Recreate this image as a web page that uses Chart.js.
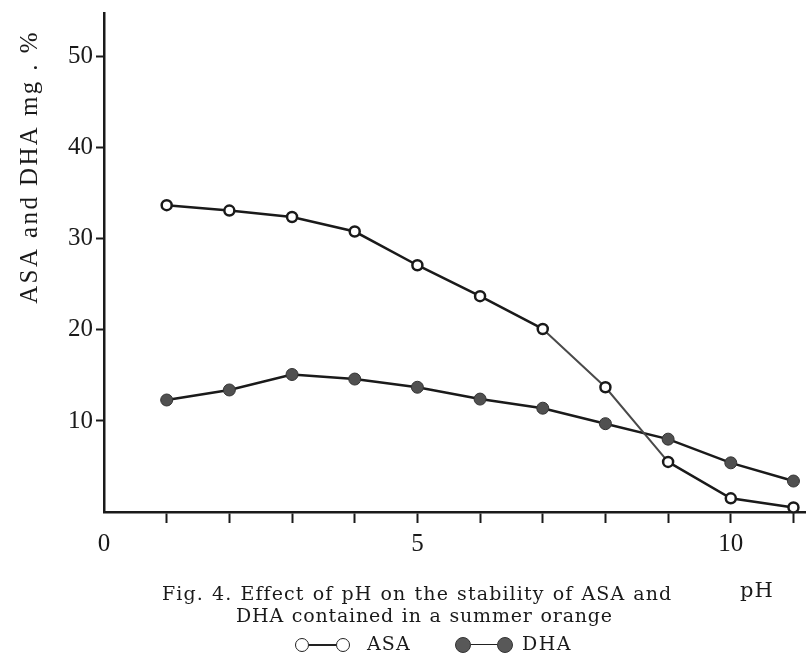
<!DOCTYPE html>
<html>
<head>
<meta charset="utf-8">
<script src="https://cdn.jsdelivr.net/npm/chart.js@4.4.1/dist/chart.umd.min.js"></script>
<style>
  html, body { margin: 0; padding: 0; background: #fff; }
  #wrap { position: relative; width: 806px; height: 655px; overflow: hidden; }
  #wrap canvas { position: absolute; left: 0; top: 0; }
  .cap { position: absolute; font-family: "DejaVu Serif", serif; font-size: 19px; color: #1a1a1a; white-space: nowrap; line-height: 1; letter-spacing: 1.1px; word-spacing: 1px; }
  .dot { position: absolute; width: 14px; height: 14px; border-radius: 50%; box-sizing: border-box; }
  .dot.open { border: 1.5px solid #222; background: #fff; }
  .dot.full { width: 16px; height: 16px; border: 1px solid #333; background: #585858; }
  .dash { position: absolute; height: 1.5px; background: #222; }
</style>
</head>
<body>
<div id="wrap">
  <canvas id="phChart" width="806" height="655"></canvas>
  <div class="cap" style="left:162px;top:584px">Fig. 4. Effect of pH on the stability of ASA and</div>
  <div class="cap" style="left:740px;top:580px;font-size:21px;letter-spacing:1px">pH</div>
  <div class="cap" style="left:236px;top:606px;letter-spacing:0.8px">DHA contained in a summer orange</div>
  <!-- legend row -->
  <div class="dot open" style="left:295px;top:638px"></div>
  <div class="dash" style="left:309px;top:644px;width:27px"></div>
  <div class="dot open" style="left:336px;top:638px"></div>
  <div class="cap" style="left:367px;top:634px">ASA</div>
  <div class="dot full" style="left:455px;top:637px"></div>
  <div class="dash" style="left:471px;top:644px;width:26px;height:1px"></div>
  <div class="dot full" style="left:497px;top:637px"></div>
  <div class="cap" style="left:522px;top:634px;letter-spacing:1.5px">DHA</div>
</div>
<script>
// pH values on the x axis
const phValues = [1, 2, 3, 4, 5, 6, 7, 8, 9, 10, 11];
// ascorbic acid (ASA), mg %
const asaValues = [33.7, 33.1, 32.4, 30.8, 27.1, 23.7, 20.1, 13.7, 5.5, 1.5, 0.5];
// dehydroascorbic acid (DHA), mg %
const dhaValues = [12.3, 13.4, 15.1, 14.6, 13.7, 12.4, 11.4, 9.7, 8.0, 5.4, 3.4];
// labelled ticks
const xTickLabels = [0, 5, 10];
const yTickLabels = [10, 20, 30, 40, 50];

const yTitle = 'ASA and DHA mg . %';

function toPoints(vals) {
    return phValues.map((x, i) => ({ x: x, y: vals[i] }));
}

// y axis title sits higher than the axis centre, so draw it by hand
const yTitlePlugin = {
    id: 'yTitle',
    afterDraw(chart) {
        const ctx = chart.ctx;
        ctx.save();
        ctx.translate(30, 167);
        ctx.rotate(-Math.PI / 2);
        ctx.font = '25px "Liberation Serif"';
        ctx.letterSpacing = '2.4px';
        ctx.fillStyle = '#1a1a1a';
        ctx.textAlign = 'center';
        ctx.textBaseline = 'middle';
        ctx.fillText(yTitle, 0, 0);
        ctx.restore();
    }
};

const ink = '#1a1a1a';
const steep = c => c.p0DataIndex === 6 || c.p0DataIndex === 7;

new Chart(document.getElementById('phChart'), {
    type: 'line',
    data: {
        datasets: [{
            label: 'ASA',
            data: toPoints(asaValues),
            borderColor: ink,
            borderWidth: 2.5,
            pointRadius: 5,
            pointBorderWidth: 2.5,
            pointBackgroundColor: '#fff',
            pointBorderColor: ink,
            tension: 0,
            segment: {
                // the steep drop from pH 7 to 9 is drawn thinner and greyer
                borderWidth: c => steep(c) ? 2 : 2.5,
                borderColor: c => steep(c) ? '#4a4a4a' : ink
            }
        }, {
            label: 'DHA',
            data: toPoints(dhaValues),
            borderColor: ink,
            borderWidth: 2.5,
            pointRadius: 6,
            pointBorderWidth: 1,
            pointBackgroundColor: '#505050',
            pointBorderColor: '#333',
            tension: 0
        }]
    },
    options: {
        responsive: false,
        animation: false,
        clip: false,
        layout: { autoPadding: false, padding: { top: 13, left: 0, right: 0, bottom: 0 } },
        plugins: {
            legend: { display: false },
            tooltip: { enabled: false }
        },
        scales: {
            x: {
                type: 'linear',
                min: 0,
                max: 11.2,
                afterFit: s => { s.height = 143; s.paddingLeft = 0; s.paddingRight = 0; },
                border: { display: true, color: ink, width: 2.5 },
                grid: {
                    drawOnChartArea: false,
                    drawTicks: true,
                    tickLength: 11,
                    tickWidth: 2,
                    tickColor: c => (c.tick && c.tick.value === 0) ? 'rgba(0,0,0,0)' : ink
                },
                ticks: {
                    stepSize: 1,
                    includeBounds: false,
                    autoSkip: false,
                    maxRotation: 0,
                    padding: 6,
                    color: ink,
                    font: { family: '"Liberation Serif"', size: 25 },
                    callback: v => xTickLabels.includes(v) ? String(v) : ''
                }
            },
            y: {
                type: 'linear',
                min: 0,
                max: 54.8,
                afterFit: s => { s.width = 104; s.paddingTop = 0; s.paddingBottom = 0; },
                border: { display: true, color: ink, width: 2.5 },
                grid: {
                    drawOnChartArea: false,
                    drawTicks: true,
                    tickLength: 8,
                    tickWidth: 2,
                    tickColor: c => (c.tick && c.tick.value === 0) ? 'rgba(0,0,0,0)' : ink
                },
                ticks: {
                    stepSize: 10,
                    includeBounds: false,
                    padding: 3,
                    color: ink,
                    font: { family: '"Liberation Serif"', size: 25 },
                    callback: v => yTickLabels.includes(v) ? String(v) : ''
                }
            }
        }
    },
    plugins: [yTitlePlugin]
});
</script>
</body>
</html>
